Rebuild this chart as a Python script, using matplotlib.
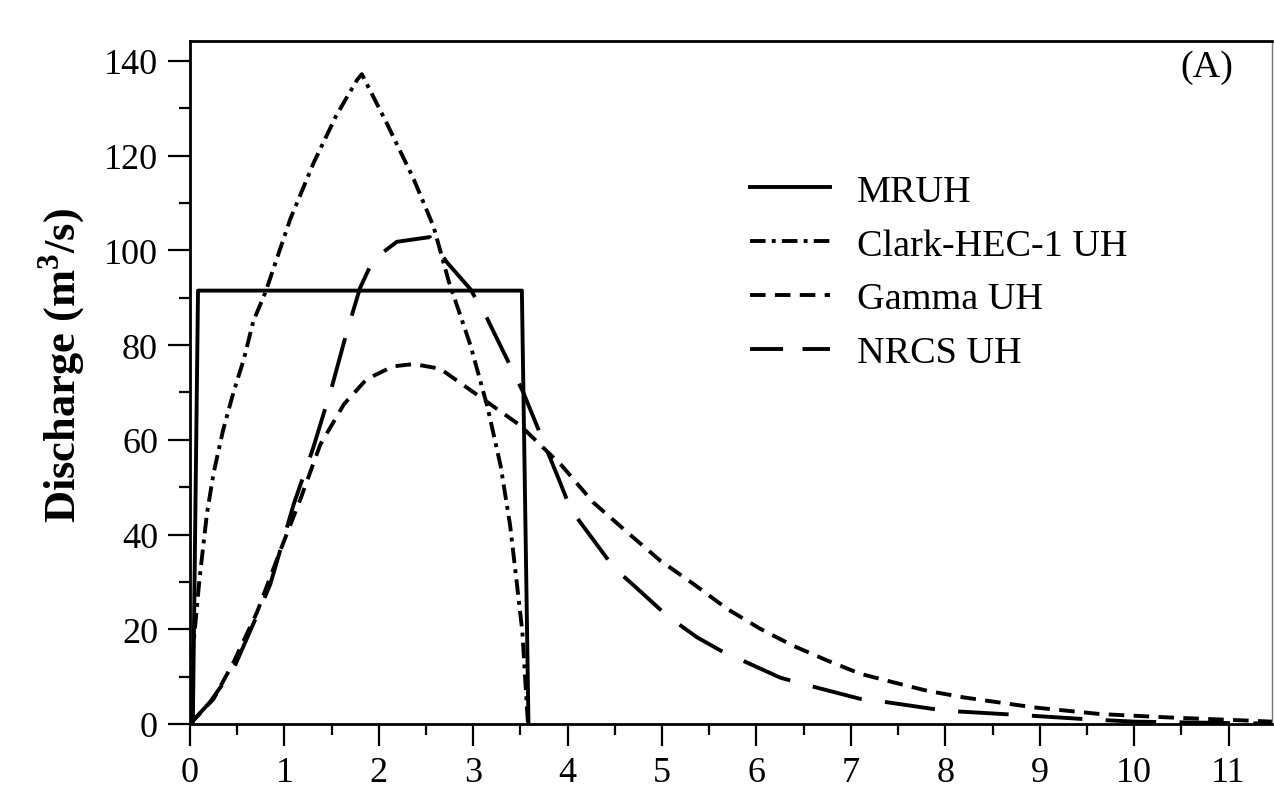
import numpy as np
import matplotlib.pyplot as plt
from matplotlib.lines import Line2D
from matplotlib.ticker import MultipleLocator

# unit hydrograph ordinates (time in h, discharge in m3/s)
mruh_t = [0.03, 0.085, 3.515, 3.585]
mruh_q = [0.0, 91.5, 91.5, 0.0]

clark_t = [0.0, 0.035, 0.1, 0.18, 0.25, 0.35, 0.46, 0.57, 0.67, 0.8, 1.06, 1.31,
           1.55, 1.77, 1.82, 2.08, 2.37, 2.58, 2.74, 2.97, 3.15, 3.29, 3.39,
           3.46, 3.52, 3.57, 3.58]
clark_q = [0.0, 16.5, 30.5, 44.5, 53.0, 62.0, 70.0, 77.0, 85.0, 91.2, 106.5, 118.5,
           128.5, 136.0, 137.2, 127.0, 115.0, 105.0, 93.5, 80.0, 67.0, 54.5, 42.0,
           30.0, 19.5, 3.0, 0.0]

gamma_t = [0.0, 0.25, 0.46, 0.71, 0.95, 1.17, 1.38, 1.63, 1.87, 2.15, 2.37, 2.65,
           2.97, 3.5, 3.94, 4.27, 4.63, 4.98, 5.33, 5.69, 6.04, 6.39, 6.75, 7.1,
           7.45, 7.81, 8.2, 8.94, 9.64, 10.35, 11.23, 11.46]
gamma_q = [0.0, 5.3, 13.0, 23.6, 36.3, 47.5, 59.0, 67.5, 72.8, 75.5, 76.0, 75.0,
           70.5, 63.0, 54.5, 46.8, 40.5, 34.5, 29.6, 24.3, 20.1, 16.5, 13.4, 10.6,
           8.8, 7.0, 5.6, 3.5, 2.1, 1.4, 0.7, 0.5]

nrcs_t = [0.0, 0.21, 0.46, 0.74, 0.85, 1.1, 1.3, 1.5, 1.65, 1.8, 1.94, 2.19,
          2.54, 2.72, 2.97, 3.15, 3.53, 3.92, 4.03, 4.49, 4.77, 5.05, 5.37, 5.62,
          6.25, 6.5, 7.1, 7.38, 8.0, 8.87, 9.5, 10.0, 11.0, 11.46]
nrcs_q = [0.0, 4.6, 11.6, 24.3, 29.5, 46.5, 58.0, 71.0, 82.0, 92.0, 98.0, 101.8,
          102.8, 97.5, 91.8, 85.5, 70.0, 51.0, 45.4, 33.0, 28.0, 22.9, 18.3, 15.5,
          9.8, 8.4, 5.3, 4.6, 2.8, 1.8, 1.0, 0.5, 0.2, 0.1]

series_labels = ["MRUH", "Clark-HEC-1 UH", "Gamma UH", "NRCS UH"]

plt.rcParams['font.family'] = ['Liberation Serif', 'DejaVu Serif']
plt.rcParams['mathtext.fontset'] = 'custom'
plt.rcParams['mathtext.rm'] = 'Liberation Serif'
plt.rcParams['mathtext.bf'] = 'Liberation Serif:bold'

fig = plt.figure(figsize=(12.74, 8.04), dpi=100)
ax = fig.add_axes([190 / 1274, 79 / 804, 1082 / 1274, 683 / 804])

lw = 2.8
styles = ['-', (0, (4, 1.6, 1, 1.6)), (0, (4, 2.4)), (0, (13, 6))]
ax.plot(mruh_t, mruh_q, color='black', lw=lw, linestyle=styles[0])
ax.plot(clark_t, clark_q, color='black', lw=lw, linestyle=styles[1])
ax.plot(gamma_t, gamma_q, color='black', lw=lw, linestyle=styles[2])
ax.plot(nrcs_t, nrcs_q, color='black', lw=lw, linestyle=styles[3])

ax.set_xlim(0, 11.46)
ax.set_ylim(0, 144.2)
ax.xaxis.set_major_locator(MultipleLocator(1))
ax.xaxis.set_minor_locator(MultipleLocator(0.5))
ax.yaxis.set_major_locator(MultipleLocator(20))
ax.yaxis.set_minor_locator(MultipleLocator(10))
ax.tick_params(which='major', direction='out', length=16, width=1.6,
               labelsize=26, pad=7)
ax.tick_params(which='minor', direction='out', length=8, width=1.6)
for sp in ax.spines.values():
    sp.set_linewidth(2.0)
ax.spines['right'].set_linewidth(1.0)
ax.spines['right'].set_color('#777777')

ax.set_ylabel("Discharge (m$^{\\mathbf{3}}$/s)", fontsize=32, fontweight='bold',
              va='center')
ax.yaxis.set_label_coords(-0.118, 0.526)

ax.text(0.94, 0.963, "(A)", transform=ax.transAxes, fontsize=27.5,
        ha='center', va='center')

# legend keys drawn with the slightly shorter dashes used in the original key
legend_styles = ['-', (0, (4, 1.6, 1, 1.6)), (0, (4, 2.4)), (0, (8.5, 5))]
handles = [Line2D([], [], color='black', lw=lw, linestyle=s) for s in legend_styles]
ax.legend(handles, series_labels, loc='upper left',
          bbox_to_anchor=(750 / 1274, 1 - 175 / 804),
          bbox_transform=fig.transFigure, frameon=False, fontsize=27.5,
          handlelength=2.1, handletextpad=0.7, labelspacing=0.5,
          borderpad=0, borderaxespad=0)

fig.savefig("out.png", dpi=100)
